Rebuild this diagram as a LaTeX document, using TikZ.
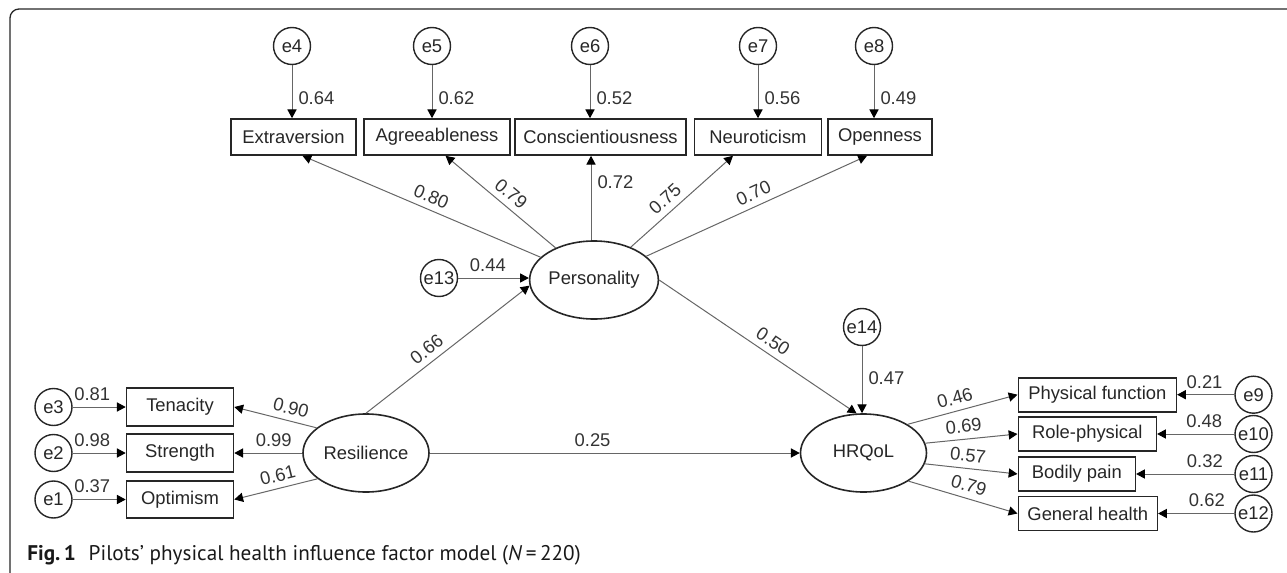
\documentclass[tikz,border=0pt]{standalone}
\usepackage{fontspec}
\setmainfont{Liberation Sans}
\newfontfamily\legendafonte{PT Sans}
\usepackage{tikz}
\usetikzlibrary{arrows.meta,shapes.geometric}
\tikzset{
    texto/.style={font=\fontsize{9.2}{11}\selectfont, text=black!85},
    caixa/.style={
        texto,
        rectangle,
        draw=black!85,
        line width=0.8pt,
        align=center,
        minimum height=18pt,
        inner sep=0pt
    },
    caixaDir/.style={caixa, anchor=west, minimum height=17pt},
    latente/.style={
        texto,
        ellipse,
        draw=black!85,
        line width=0.8pt,
        minimum width=63pt,
        minimum height=39pt,
        inner sep=0pt
    },
    erro/.style={
        texto,
        circle,
        draw=black!85,
        line width=0.7pt,
        minimum size=18.5pt,
        inner sep=0pt
    },
    fluxo/.style={-{Triangle[length=4.4pt,width=4.6pt,color=black]}, draw=black!60, line width=0.5pt},
    carga/.style={texto, text=black!80, inner sep=3pt},
    moldura/.style={draw=black!85, line width=0.65pt, rounded corners=4.5pt}
}

\begin{document}
\begin{tikzpicture}[x=0.5pt, y=-0.5pt]
    \useasboundingbox (0,0) rectangle (1287,573);
    \draw[moldura] (1300,9) -- (10,9) -- (10,582) -- (80,582);

    \node[erro] (e4) at (292,46) {e4};
    \node[erro] (e5) at (432,46) {e5};
    \node[erro] (e6) at (590,46) {e6};
    \node[erro] (e7) at (758,46) {e7};
    \node[erro] (e8) at (874,46) {e8};

    \node[caixa, minimum width=62.5pt] (extra) at (293.5,137) {Extraversion};
    \node[caixa, minimum width=73pt] (agree) at (437,137) {Agreeableness};
    \node[caixa, minimum width=85.5pt] (consc) at (600.5,137) {Conscientiousness};
    \node[caixa, minimum width=63.5pt] (neuro) at (758,137) {Neuroticism};
    \node[caixa, minimum width=52pt] (open) at (880,137) {Openness};

    \node[latente] (pers) at (594,280) {Personality};
    \node[erro] (e13) at (439,278) {e13};

    \node[latente] (res) at (366,453) {Resilience};
    \node[caixa, minimum width=53.5pt, minimum height=18.75pt] (tenac) at (180,407) {Tenacity};
    \node[caixa, minimum width=53.5pt, minimum height=18.75pt] (stren) at (180,453) {Strength};
    \node[caixa, minimum width=53.5pt, minimum height=18.75pt] (optim) at (180,499.5) {Optimism};
    \node[erro] (e3) at (53.5,407) {e3};
    \node[erro] (e2) at (53.5,453) {e2};
    \node[erro] (e1) at (53.5,499.5) {e1};

    \node[latente] (hrqol) at (863.5,453) {HRQoL};
    \node[erro] (e14) at (862,327) {e14};

    \node[caixaDir, minimum width=79pt] (pf) at (1017.5,394.7) {Physical function};
    \node[caixaDir, minimum width=69pt] (rp) at (1017.5,434) {Role-physical};
    \node[caixaDir, minimum width=58.5pt] (bp) at (1017.5,474) {Bodily pain};
    \node[caixaDir, minimum width=69.5pt] (gh) at (1017.5,513.5) {General health};
    \node[erro] (e9) at (1253.5,394.7) {e9};
    \node[erro] (e10) at (1253.5,434) {e10};
    \node[erro] (e11) at (1253.5,474) {e11};
    \node[erro] (e12) at (1253.5,513.5) {e12};

    \node[anchor=west, inner sep=0pt, text=black!90,
          font=\legendafonte\fontsize{10.6}{12}\selectfont] (legenda) at (27,555)
    {\textbf{Fig.\,1}\hspace{0.6em}Pilots’ physical health influence factor model (\textit{N}\,=\,220)};

    \draw[fluxo] (e4) -- (e4 |- extra.north) node[carga, pos=0.63, right] {0.64};
    \draw[fluxo] (e5) -- (e5 |- agree.north) node[carga, pos=0.63, right] {0.62};
    \draw[fluxo] (e6) -- (e6 |- consc.north) node[carga, pos=0.63, right] {0.52};
    \draw[fluxo] (e7) -- (e7 |- neuro.north) node[carga, pos=0.63, right] {0.56};
    \draw[fluxo] (e8) -- (e8 |- open.north) node[carga, pos=0.63, right] {0.49};

    \draw[fluxo] (pers) -- ([xshift=4.5pt]extra.south) node[carga, pos=0.48, sloped, above] {0.80};
    \draw[fluxo] (pers) -- ([xshift=4.3pt]agree.south) node[carga, pos=0.48, sloped, above] {0.79};
    \draw[fluxo] ([xshift=-1.5pt]pers.north) -- ([xshift=-1.5pt]pers.north |- consc.south)
        node[carga, pos=0.69, right] {0.72};
    \draw[fluxo] (pers) -- ([xshift=-12.5pt]neuro.south) node[carga, pos=0.42, sloped, above] {0.75};
    \draw[fluxo] (pers) -- ([xshift=-6.5pt]open.south) node[carga, pos=0.51, sloped, above] {0.70};

    \draw[fluxo] (e13) -- (e13 -| pers.west) node[carga, pos=0.42, above] {0.44};
    \draw[fluxo] (res.north) -- (pers.185) node[carga, pos=0.42, sloped, above] {0.66};

    \draw[fluxo] (e3) -- (tenac) node[carga, pos=0.37, above] {0.81};
    \draw[fluxo] (e2) -- (stren) node[carga, pos=0.37, above] {0.98};
    \draw[fluxo] (e1) -- (optim) node[carga, pos=0.37, above] {0.37};
    \draw[fluxo] (res.153) -- (tenac.east) node[carga, pos=0.35, sloped, above] {0.90};
    \draw[fluxo] (res) -- (stren) node[carga, pos=0.42, above] {0.99};
    \draw[fluxo] (res.208) -- (optim.east) node[carga, pos=0.44, sloped, above] {0.61};

    \draw[fluxo] (res) -- (hrqol) node[carga, pos=0.44, above] {0.25};
    \draw[fluxo] (pers.east) -- (hrqol.100) node[carga, pos=0.54, sloped, above] {0.50};
    \draw[fluxo] (e14) -- (e14 |- hrqol.north) node[carga, pos=0.47, right] {0.47};

    \draw[fluxo] (hrqol.33) -- (pf.west) node[carga, pos=0.46, sloped, above] {0.46};
    \draw[fluxo] (hrqol.9) -- (rp.west) node[carga, pos=0.43, sloped, above] {0.69};
    \draw[fluxo] (hrqol.-10) -- (bp.west) node[carga, pos=0.45, sloped, above] {0.57};
    \draw[fluxo] (hrqol.-32) -- (gh.west) node[carga, pos=0.52, sloped, above] {0.79};

    \draw[fluxo] (e9) -- (pf) node[carga, pos=0.52, above] {0.21};
    \draw[fluxo] (e10) -- (rp) node[carga, pos=0.39, above] {0.48};
    \draw[fluxo] (e11) -- (bp) node[carga, pos=0.30, above] {0.32};
    \draw[fluxo] (e12) -- (gh) node[carga, pos=0.36, above] {0.62};
\end{tikzpicture}
\end{document}
